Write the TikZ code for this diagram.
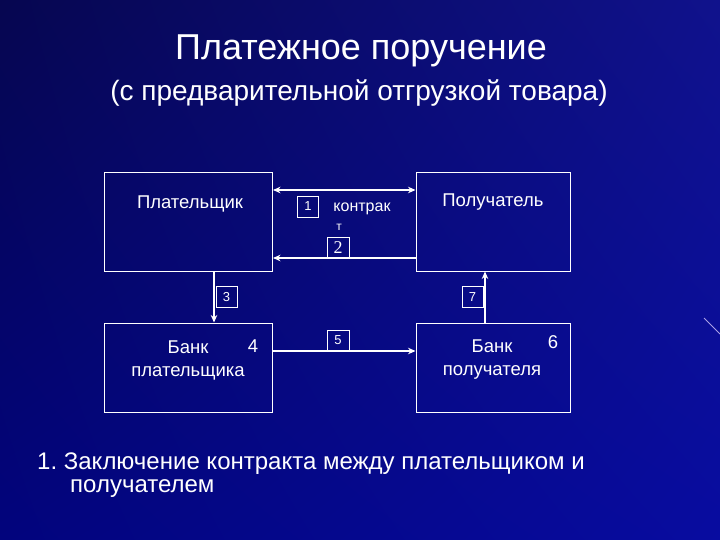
\documentclass[tikz,border=0pt]{standalone}
\usepackage{fontspec}
\setmainfont{Liberation Sans}
\newfontfamily\serifnum{Liberation Serif}
\usetikzlibrary{arrows.meta,shadings}
\definecolor{bgul}{RGB}{6,6,80}
\definecolor{bgur}{RGB}{16,18,140}
\definecolor{bgll}{RGB}{2,4,125}
\definecolor{bglr}{RGB}{8,12,160}
\definecolor{streak}{RGB}{170,160,230}
\tikzset{
  box/.style={draw=white, line width=1pt, inner sep=0pt},
  numbox/.style={draw=white, line width=0.8pt, inner sep=0pt, minimum width=21pt, minimum height=21pt, text=white},
  conn/.style={draw=white, line width=1.3pt, -{Stealth[length=7.5pt,width=6.5pt]}},
  lbl/.style={text=white, font=\fontsize{18.5}{23}\selectfont, align=center, inner sep=0pt},
}
\begin{document}
\begin{tikzpicture}[x=1pt,y=-1pt]
\useasboundingbox (0,0) rectangle (720,540);
\shade[upper left=bgul, upper right=bgur, lower left=bgll, lower right=bglr] (0,0) rectangle (720,540);
\draw[streak, line width=1pt] (704,318) -- (720,334);
% title
\node[text=white, font=\fontsize{36}{40}\selectfont, inner sep=0pt] (t1) at (361,51) {Платежное поручение};
\node[text=white, font=\fontsize{28}{32}\selectfont, inner sep=0pt] (t2) at (359,93) {(с предварительной отгрузкой товара)};
% boxes
\node[box, minimum width=168pt, minimum height=98pt] (pl) at (188.5,222) {};
\node[box, minimum width=154pt, minimum height=98pt] (po) at (493,222) {};
\node[box, minimum width=168pt, minimum height=89pt] (bp) at (188.5,367.5) {};
\node[box, minimum width=154pt, minimum height=89pt] (bo) at (493,367.5) {};
% box texts
\node[lbl] (plt) at (190,204) {Плательщик};
\node[lbl] (pot) at (493,202) {Получатель};
\node[lbl] (bpt) at (188,360) {Банк\\плательщика};
\node[lbl] (bot) at (492,360) {Банк\\получателя};
\node[lbl] (n4) at (253,346) {4};
\node[lbl] (n6) at (553,342) {6};
% connectors
\coordinate (ya) at (0,190);
\coordinate (yb) at (0,258);
\coordinate (yc) at (0,351);
\coordinate (xa) at (214,0);
\coordinate (xb) at (485,0);
\draw[conn, {Stealth[length=7.5pt,width=6.5pt]}-{Stealth[length=7.5pt,width=6.5pt]}] (pl.east |- ya) -- (po.west |- ya);
\draw[conn] (po.west |- yb) -- (pl.east |- yb);
\draw[conn] (pl.south -| xa) -- (bp.north -| xa);
\draw[conn] (bo.north -| xb) -- (po.south -| xb);
\draw[conn] (bp.east |- yc) -- (bo.west |- yc);
% number boxes
\node[numbox, font=\fontsize{13}{15}\selectfont] (b1) at (308,206.5) {1};
\node[lbl, font=\fontsize{16}{18}\selectfont] (k1) at (362,209) {контрак};
\node[lbl, font=\fontsize{12}{14}\selectfont] (k2) at (339,227) {т};
\node[numbox, minimum width=22pt, font=\serifnum\fontsize{18}{20}\selectfont] (b2) at (338,247.5) {2};
\node[numbox, font=\fontsize{13}{15}\selectfont] (b3) at (226.5,297) {3};
\node[numbox, font=\fontsize{13}{15}\selectfont] (b7) at (472.5,297) {7};
\node[numbox, minimum width=22pt, font=\fontsize{13}{15}\selectfont] (b5) at (338,340.5) {5};
% bottom text
\node[text=white, font=\fontsize{24}{23}\selectfont, anchor=base west, inner sep=0pt, align=left] (note) at (37,492)
  {1.\ Заключение контракта между плательщиком и\\\hspace{33pt}получателем};
\end{tikzpicture}
\end{document}
